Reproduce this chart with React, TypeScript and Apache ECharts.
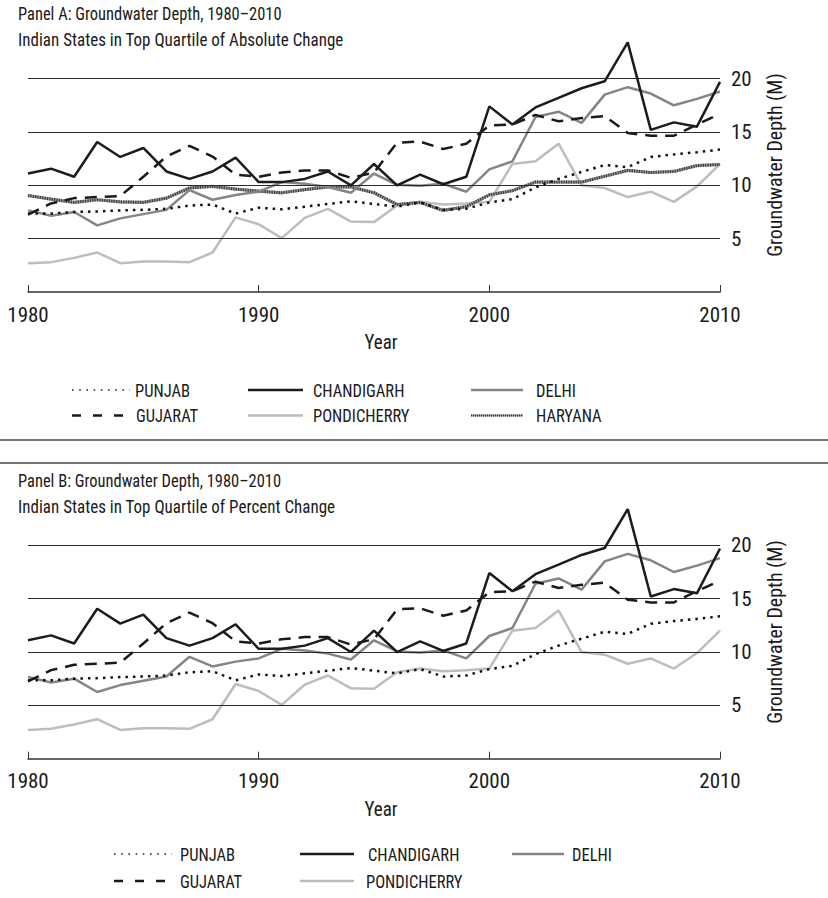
import React, { useEffect, useRef } from "react";
import * as echarts from "echarts";

const years = [1980, 1981, 1982, 1983, 1984, 1985, 1986, 1987, 1988, 1989, 1990, 1991, 1992, 1993, 1994, 1995, 1996, 1997, 1998, 1999, 2000, 2001, 2002, 2003, 2004, 2005, 2006, 2007, 2008, 2009, 2010];

const punjab = [7.35, 7.35, 7.5, 7.55, 7.65, 7.7, 7.8, 8.1, 8.2, 7.35, 7.9, 7.75, 8.0, 8.25, 8.5, 8.25, 8.0, 8.4, 7.7, 7.8, 8.4, 8.7, 9.8, 10.6, 11.25, 11.9, 11.7, 12.65, 12.9, 13.1, 13.35];
const chandigarh = [11.1, 11.56, 10.8, 14.06, 12.66, 13.5, 11.3, 10.6, 11.3, 12.6, 10.3, 10.3, 10.6, 11.3, 10.0, 12.0, 10.0, 11.0, 10.1, 10.8, 17.4, 15.7, 17.3, 18.2, 19.1, 19.75, 23.4, 15.2, 15.9, 15.5, 19.7];
const delhi = [7.65, 7.15, 7.5, 6.25, 6.9, 7.3, 7.7, 9.55, 8.65, 9.1, 9.4, 10.3, 10.15, 9.85, 9.3, 11.1, 10.05, 9.95, 10.15, 9.4, 11.5, 12.25, 16.4, 16.9, 15.85, 18.5, 19.2, 18.6, 17.5, 18.1, 18.8];
const gujarat = [7.25, 8.3, 8.8, 8.9, 9.0, 10.8, 12.7, 13.7, 12.7, 11.0, 10.8, 11.2, 11.4, 11.4, 10.7, 11.2, 14.0, 14.1, 13.4, 13.9, 15.6, 15.7, 16.6, 16.0, 16.3, 16.5, 14.9, 14.65, 14.65, 15.7, 16.7];
const pondicherry = [2.7, 2.8, 3.2, 3.7, 2.7, 2.85, 2.85, 2.8, 3.7, 7.0, 6.35, 5.05, 6.95, 7.8, 6.6, 6.55, 8.1, 8.45, 8.2, 8.3, 8.45, 12.0, 12.25, 13.9, 10.0, 9.75, 8.9, 9.4, 8.45, 9.9, 12.0];
const haryana = [9.05, 8.7, 8.4, 8.65, 8.45, 8.4, 8.8, 9.75, 9.9, 9.65, 9.45, 9.3, 9.6, 9.85, 9.85, 9.3, 8.2, 8.4, 7.65, 8.0, 9.1, 9.5, 10.3, 10.3, 10.3, 10.85, 11.4, 11.2, 11.3, 11.85, 11.95];

const gridValues = [5, 10, 15, 20];
const xTicks = [1980, 1990, 2000, 2010];

const titleA = "Panel A: Groundwater Depth, 1980\u20132010";
const subA = "Indian States in Top Quartile of Absolute Change";
const titleB = "Panel B: Groundwater Depth, 1980\u20132010";
const subB = "Indian States in Top Quartile of Percent Change";
const yName = "Groundwater Depth (M)";
const xName = "Year";

const FONT = "'Liberation Sans Narrow', 'Roboto Condensed', 'DejaVu Sans Condensed', Roboto, sans-serif";
const TXT = "#1a1a1a";

const STYLES: Record<string, any> = {
  PUNJAB: { color: "#111", width: 2.5, type: [2.5, 5], z: 5 },
  CHANDIGARH: { color: "#1c1c1c", width: 2.5, type: "solid", z: 7 },
  DELHI: { color: "#858585", width: 2.5, type: "solid", z: 4 },
  GUJARAT: { color: "#1a1a1a", width: 2.5, type: [12, 8], z: 6 },
  PONDICHERRY: { color: "#bdbdbd", width: 2.5, type: "solid", z: 2 },
  HARYANA: { color: "#3a3a3a", width: 3, type: [1.2, 1.2], z: 3 },
};

const legendStyles: Record<string, any> = {
  PUNJAB: { stroke: "#222", lineWidth: 1.6, lineDash: [1.6, 5.6] },
  CHANDIGARH: { stroke: "#1c1c1c", lineWidth: 2.5 },
  DELHI: { stroke: "#858585", lineWidth: 2.5 },
  GUJARAT: { stroke: "#1a1a1a", lineWidth: 2.5, lineDash: [9, 12] },
  PONDICHERRY: { stroke: "#bdbdbd", lineWidth: 2.5 },
  HARYANA: { stroke: "#3a3a3a", lineWidth: 2.2, lineDash: [1, 1] },
};

export default function App() {
  const ref = useRef<HTMLDivElement>(null);
  useEffect(() => {
    if (!ref.current) return;
    const chart = echarts.init(ref.current, undefined, { renderer: "svg" });

    const panels = [
      { top: 25.3, names: ["PUNJAB", "CHANDIGARH", "DELHI", "GUJARAT", "PONDICHERRY", "HARYANA"] },
      { top: 492, names: ["PUNJAB", "CHANDIGARH", "DELHI", "GUJARAT", "PONDICHERRY"] },
    ];
    const dataMap: Record<string, number[]> = {
      PUNJAB: punjab,
      CHANDIGARH: chandigarh,
      DELHI: delhi,
      GUJARAT: gujarat,
      PONDICHERRY: pondicherry,
      HARYANA: haryana,
    };
    const H = 266.7;

    const series: any[] = [];
    panels.forEach((p, gi) => {
      series.push({
        type: "line",
        xAxisIndex: gi,
        yAxisIndex: gi,
        data: [],
        silent: true,
        z: 1,
        markLine: {
          silent: true,
          symbol: ["none", "none"],
          label: { show: false },
          lineStyle: { color: "#2a2a2a", width: 1.2, type: "solid" },
          data: gridValues.map((v) => ({ yAxis: v })),
        },
      });
      p.names.forEach((n) => {
        const st = STYLES[n];
        const d = years.map((y, i) => [y, dataMap[n][i]]);
        if (n === "HARYANA") {
          series.push({
            type: "line",
            name: n + "_base",
            xAxisIndex: gi,
            yAxisIndex: gi,
            data: d,
            symbol: "none",
            silent: true,
            z: st.z,
            lineStyle: { color: "#9a9a9a", width: 3.2, type: "solid" },
          });
        }
        series.push({
          type: "line",
          name: n,
          xAxisIndex: gi,
          yAxisIndex: gi,
          data: d,
          symbol: "none",
          silent: true,
          z: st.z,
          lineStyle: { color: st.color, width: st.width, type: st.type },
        });
      });
    });

    const graphic: any[] = [];
    const dy = 467;
    const titles = [
      [titleA, subA],
      [titleB, subB],
    ];
    titles.forEach((t, i) => {
      graphic.push({ type: "text", x: 18, y: 14 + i * dy, scaleX: 0.89, style: { text: t[0], fontSize: 18.5, fontFamily: FONT, fill: TXT, verticalAlign: "middle" } });
      graphic.push({ type: "text", x: 18, y: 40 + i * dy, scaleX: 0.92, style: { text: t[1], fontSize: 18.5, fontFamily: FONT, fill: TXT, verticalAlign: "middle" } });
      graphic.push({ type: "text", x: 381, y: 342.5 + i * dy, scaleX: 0.95, style: { text: xName, fontSize: 20, fontFamily: FONT, fill: TXT, verticalAlign: "middle", align: "center" } });
      graphic.push({ type: "text", x: 775, y: 165 + i * dy, rotation: Math.PI / 2, scaleX: 0.95, style: { text: yName, fontSize: 21, fontFamily: FONT, fill: TXT, verticalAlign: "middle", align: "center" } });
    });
    // separator lines
    [440, 463].forEach((yy) => {
      graphic.push({ type: "line", shape: { x1: 0, y1: yy, x2: 828, y2: yy }, style: { stroke: "#444", lineWidth: 1.6 } });
    });

    // legends
    const legendA = [
      { n: "PUNJAB", x1: 72, x2: 130, tx: 135, row: 0 },
      { n: "GUJARAT", x1: 72, x2: 128, tx: 136, row: 1 },
      { n: "CHANDIGARH", x1: 248, x2: 303, tx: 313, row: 0 },
      { n: "PONDICHERRY", x1: 248, x2: 303, tx: 313, row: 1 },
      { n: "DELHI", x1: 471, x2: 523, tx: 536, row: 0 },
      { n: "HARYANA", x1: 471, x2: 523, tx: 536, row: 1 },
    ];
    const legendB = [
      { n: "PUNJAB", x1: 114, x2: 172, tx: 180, row: 0 },
      { n: "GUJARAT", x1: 114, x2: 170, tx: 180, row: 1 },
      { n: "CHANDIGARH", x1: 300, x2: 354, tx: 368, row: 0 },
      { n: "PONDICHERRY", x1: 300, x2: 354, tx: 366, row: 1 },
      { n: "DELHI", x1: 512, x2: 564, tx: 572, row: 0 },
    ];
    const rowsA = [390, 415.5];
    const rowsB = [854, 881];
    const addLegend = (items: any[], rows: number[]) => {
      items.forEach((it) => {
        const yy = rows[it.row];
        if (it.n === "HARYANA") {
          graphic.push({ type: "line", shape: { x1: it.x1, y1: yy, x2: it.x2, y2: yy }, style: { stroke: "#9a9a9a", lineWidth: 2.2 } });
        }
        graphic.push({ type: "line", shape: { x1: it.x1, y1: yy, x2: it.x2, y2: yy }, style: { ...legendStyles[it.n] } });
        graphic.push({ type: "text", x: it.tx, y: yy, scaleX: 0.87, style: { text: it.n, fontSize: 19, fontFamily: FONT, fill: TXT, verticalAlign: "middle" } });
      });
    };
    addLegend(legendA, rowsA);
    addLegend(legendB, rowsB);

    const mkX = (gi: number) => ({
      type: "value",
      gridIndex: gi,
      min: 1980,
      max: 2010,
      interval: 10,
      offset: 4,
      axisLine: { show: true, lineStyle: { color: "#333", width: 1.5 } },
      axisTick: { show: true, inside: true, length: 7, lineStyle: { color: "#333", width: 1 } },
      axisLabel: { margin: 8, fontSize: 21, fontFamily: FONT, color: TXT, formatter: (v: number) => (xTicks.includes(v) ? String(v) : "") },
      splitLine: { show: false },
    });
    const mkY = (gi: number) => ({
      type: "value",
      gridIndex: gi,
      position: "right",
      min: 0,
      max: 25,
      interval: 5,
      splitLine: { show: false },
      axisLine: { show: false },
      axisTick: { show: false },
      axisLabel: { showMinLabel: false, showMaxLabel: false, margin: 11, fontSize: 21, fontFamily: FONT, color: TXT },
    });

    chart.setOption({
      animation: false,
      backgroundColor: "#fff",
      grid: panels.map((p) => ({ left: 28, width: 692, top: p.top, height: H, containLabel: false, outerBoundsMode: "none" })),
      xAxis: [mkX(0), mkX(1)],
      yAxis: [mkY(0), mkY(1)],
      series,
      graphic,
    });
    return () => chart.dispose();
  }, []);
  return <div ref={ref} style={{ position: "absolute", left: 0, top: 0, width: 828, height: 898 }} />;
}
